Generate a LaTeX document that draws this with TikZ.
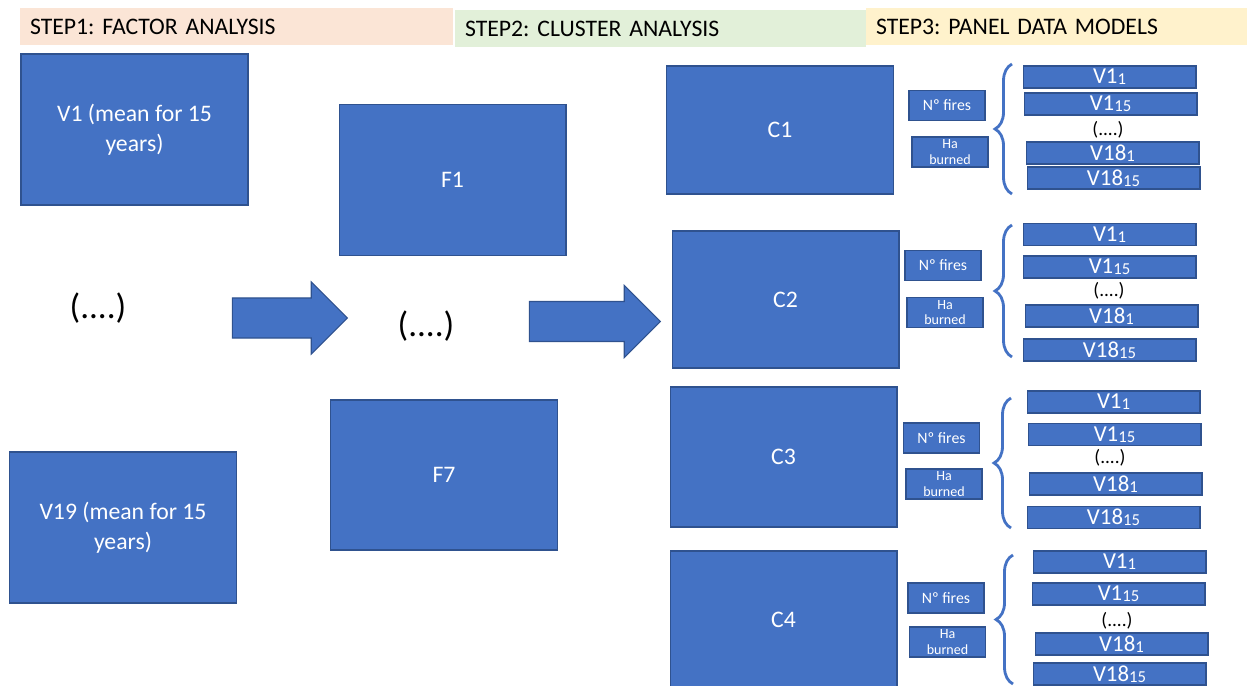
\documentclass[tikz,border=0pt]{standalone}
\usepackage{fontspec}
\setmainfont{Carlito}
\usetikzlibrary{shapes.arrows, decorations.pathreplacing, calc}
\definecolor{BoxColor}{RGB}{68, 114, 196}
\definecolor{EdgeColor}{RGB}{47, 82, 143}
\definecolor{StepOneColor}{RGB}{251, 229, 214}
\definecolor{StepTwoColor}{RGB}{226, 240, 217}
\definecolor{StepThreeColor}{RGB}{255, 242, 204}
\newcommand{\vsub}[1]{\raisebox{-0.6pt}{\fontsize{9.5}{10}\selectfont #1}}
\frenchspacing

\begin{document}
\begin{tikzpicture}[
    x=0.02cm, y=-0.02cm,
    box/.style={
        draw=EdgeColor,
        line width=0.6pt,
        fill=BoxColor,
        text=white,
        inner sep=0pt,
        align=center,
        font=\fontsize{13.5}{17}\selectfont
    },
    bigbox/.style={box, minimum width=4.54cm, minimum height=3.02cm},
    clusterbox/.style={box, minimum width=4.54cm},
    firesbox/.style={box, minimum width=1.52cm, minimum height=0.6cm, font=\fontsize{9}{10}\selectfont},
    burnedbox/.style={box, minimum width=1.52cm, minimum height=0.6cm, font=\fontsize{8}{9}\selectfont},
    varbox/.style={box, minimum width=3.46cm, minimum height=0.44cm, font=\fontsize{13}{13}\selectfont},
    steptitle/.style={inner xsep=0.2cm, inner ysep=0pt, minimum height=0.74cm, align=left, font=\fontsize{13.5}{16}\selectfont},
    blockarrow/.style={single arrow, fill=BoxColor, draw=EdgeColor, line width=0.6pt, inner xsep=0pt, inner ysep=0.39cm, single arrow head extend=0.32cm, anchor=tip},
    dots/.style={font=\fontsize{20}{24}\selectfont},
    smalldots/.style={font=\fontsize{11}{12}\selectfont},
    bracket/.style={decorate, decoration={brace, amplitude=0.34cm}, draw=BoxColor, line width=1.6pt}
]
\useasboundingbox (0,0) rectangle (1247,686);

% Step titles
\node[steptitle, fill=StepOneColor, text width=8.26cm] (step_one) at (236.5,26.5) {STEP1: FACTOR ANALYSIS};
\node[steptitle, fill=StepTwoColor, text width=7.82cm] (step_two) at (660.5,28.5) {STEP2: CLUSTER ANALYSIS};
\node[steptitle, fill=StepThreeColor, text width=7.22cm] (step_three) at (1056.5,26.5) {STEP3: PANEL DATA MODELS};

% Step 1: variables
\node[bigbox] (var_first) at (134.5,129.5) {V1 (mean for 15\\years)};
\node[dots] (var_dots) at (98,308) {(....)};
\node[bigbox] (var_last) at (123,527.5) {V19 (mean for 15\\years)};

% Step 1 -> factors
\node[blockarrow, minimum height=2.3cm] (arrow_factors) at (348,318) {};

% Factors
\node[bigbox] (factor_first) at (452.5,180) {F1};
\node[dots] (factor_dots) at (426,326) {(....)};
\node[bigbox, minimum height=3cm] (factor_last) at (444,475) {F7};

% Factors -> clusters
\node[blockarrow, minimum height=2.62cm] (arrow_clusters) at (661,321.5) {};

% Cluster C1
\node[clusterbox, minimum height=2.56cm] (cluster_one) at (780,130) {C1};
\node[firesbox] (c1_fires) at (947,105.5) {Nº fires};
\node[burnedbox] (c1_burned) at (950,152) {Ha\\burned};
\node[varbox] (c1_v1_first) at (1109.5,77) {V1\vsub{1}};
\node[varbox] (c1_v1_last) at (1110.5,104) {V1\vsub{15}};
\node[smalldots] (c1_dots) at (1108,130) {(....)};
\node[varbox] (c1_v18_first) at (1112.5,153) {V18\vsub{1}};
\node[varbox] (c1_v18_last) at (1113.5,178) {V18\vsub{15}};
\coordinate (c1_top) at (1012,64);
\coordinate (c1_bottom) at (1012,194);

% Cluster C2
\node[clusterbox, minimum height=2.74cm] (cluster_two) at (785.5,299.5) {C2};
\node[firesbox] (c2_fires) at (943,265.5) {Nº fires};
\node[burnedbox] (c2_burned) at (945,312.5) {Ha\\burned};
\node[varbox] (c2_v1_first) at (1109.5,234.5) {V1\vsub{1}};
\node[varbox] (c2_v1_last) at (1109.5,267) {V1\vsub{15}};
\node[smalldots] (c2_dots) at (1109,291) {(....)};
\node[varbox] (c2_v18_first) at (1111.5,316) {V18\vsub{1}};
\node[varbox] (c2_v18_last) at (1109.5,350) {V18\vsub{15}};
\coordinate (c2_top) at (1012,225);
\coordinate (c2_bottom) at (1012,357);

% Cluster C3
\node[clusterbox, minimum height=2.8cm] (cluster_three) at (783.5,457) {C3};
\node[firesbox] (c3_fires) at (941.5,438) {Nº fires};
\node[burnedbox] (c3_burned) at (944,484) {Ha\\burned};
\node[varbox] (c3_v1_first) at (1113.5,402) {V1\vsub{1}};
\node[varbox] (c3_v1_last) at (1114.5,434.5) {V1\vsub{15}};
\node[smalldots] (c3_dots) at (1110,458) {(....)};
\node[varbox] (c3_v18_first) at (1115.5,484) {V18\vsub{1}};
\node[varbox] (c3_v18_last) at (1113.5,517.5) {V18\vsub{15}};
\coordinate (c3_top) at (1011,398);
\coordinate (c3_bottom) at (1011,528);

% Cluster C4
\node[clusterbox, minimum height=2.74cm] (cluster_four) at (783.5,619.5) {C4};
\node[firesbox] (c4_fires) at (946,598) {Nº fires};
\node[burnedbox] (c4_burned) at (947.5,642) {Ha\\burned};
\node[varbox] (c4_v1_first) at (1119.5,562) {V1\vsub{1}};
\node[varbox] (c4_v1_last) at (1118.5,594) {V1\vsub{15}};
\node[smalldots] (c4_dots) at (1117,621) {(....)};
\node[varbox] (c4_v18_first) at (1121.5,644) {V18\vsub{1}};
\node[varbox] (c4_v18_last) at (1119.5,674) {V18\vsub{15}};
\coordinate (c4_top) at (1013,555);
\coordinate (c4_bottom) at (1013,684);

% Braces grouping the panel variables
\draw[bracket] (c1_bottom) -- (c1_top);
\draw[bracket] (c2_bottom) -- (c2_top);
\draw[bracket] (c3_bottom) -- (c3_top);
\draw[bracket] (c4_bottom) -- (c4_top);

\end{tikzpicture}
\end{document}
